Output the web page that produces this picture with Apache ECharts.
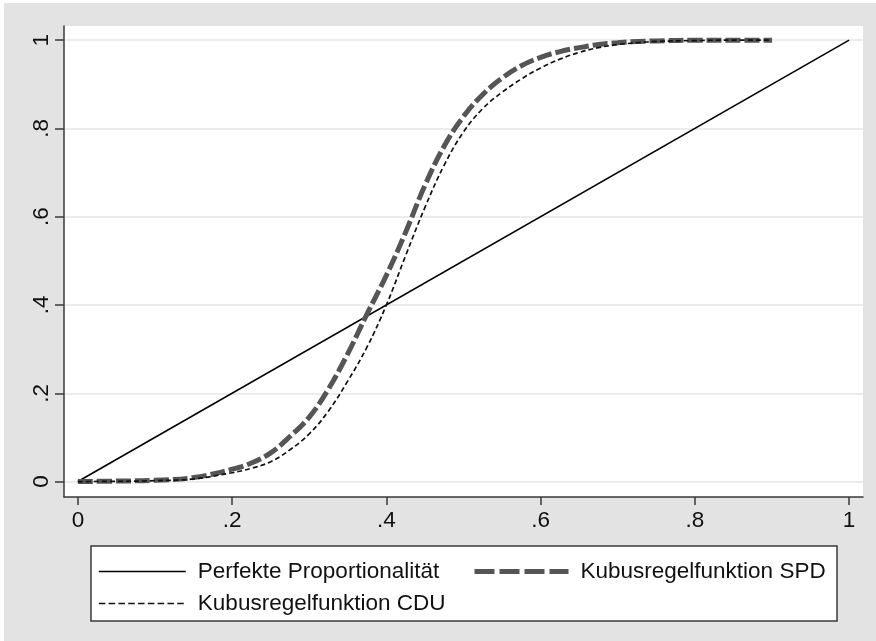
<!DOCTYPE html>
<html>
<head>
<meta charset="utf-8">
<script src="https://cdn.jsdelivr.net/npm/echarts@6/dist/echarts.min.js"></script>
<style>
  html, body { margin: 0; padding: 0; background: #fff; }
  #chart { width: 876px; height: 641px; }
</style>
</head>
<body>
<div id="chart"></div>
<script>
// Vote share (x) and seat share (y)
const shareX = [0, 0.05, 0.1, 0.15, 0.2, 0.225, 0.25, 0.275, 0.3, 0.325, 0.35, 0.375, 0.4, 0.425, 0.45, 0.475, 0.5, 0.525, 0.55, 0.575, 0.6, 0.625, 0.65, 0.675, 0.7, 0.725, 0.75, 0.8, 0.85, 0.9];
const seatsSPD = [0, 0.001, 0.003, 0.009, 0.028, 0.042, 0.065, 0.102, 0.146, 0.21, 0.29, 0.38, 0.467, 0.565, 0.671, 0.76, 0.827, 0.877, 0.914, 0.942, 0.961, 0.974, 0.983, 0.99, 0.994, 0.997, 0.998, 1.0, 1.0, 1.0];
const seatsCDU = [0, 0.0005, 0.002, 0.006, 0.02, 0.03, 0.045, 0.072, 0.108, 0.16, 0.228, 0.305, 0.4, 0.512, 0.621, 0.717, 0.792, 0.845, 0.882, 0.912, 0.937, 0.957, 0.972, 0.983, 0.99, 0.994, 0.997, 0.999, 1.0, 1.0];
const diagX = [0, 1];
const diagY = [0, 1];

const tickValues = [0, 0.2, 0.4, 0.6, 0.8, 1];
const tickLabels = ['0', '.2', '.4', '.6', '.8', '1'];

const names = ['Perfekte Proportionalität', 'Kubusregelfunktion SPD', 'Kubusregelfunktion CDU'];

const pairs = (xs, ys) => xs.map((x, i) => [x, ys[i]]);
const fmt = v => {
  const i = tickValues.findIndex(t => Math.abs(t - v) < 1e-9);
  return i >= 0 ? tickLabels[i] : '';
};

const FONT = '"Liberation Sans", Arial, sans-serif';
const textBase = { fontFamily: FONT, fontSize: 22.5, color: '#111' };

const chart = echarts.init(document.getElementById('chart'), null, { renderer: 'canvas' });

const legendCommon = {
  orient: 'horizontal',
  padding: 0,
  itemHeight: 14,
  itemGap: 0,
  selectedMode: false,
  itemStyle: { opacity: 0 },
  textStyle: Object.assign({}, textBase, { padding: [0, 0, 0, 7] })
};

chart.setOption({
  backgroundColor: '#ffffff',
  animation: false,
  graphic: [
    { type: 'rect', z: -10, shape: { x: 4, y: 3, width: 872, height: 638 }, style: { fill: '#e3e3e3' }, silent: true },
    { type: 'rect', z: 0, shape: { x: 91, y: 546, width: 746, height: 75 }, style: { fill: '#ffffff', stroke: '#3a3a3a', lineWidth: 1.5 }, silent: true }
  ],
  grid: {
    left: 64, right: 13, top: 26, bottom: 144,
    show: true, backgroundColor: '#ffffff', borderWidth: 0
  },
  xAxis: {
    type: 'value',
    min: -0.018, max: 1.018,
    axisLine: { show: true, onZero: false, lineStyle: { color: '#3a3a3a', width: 1.5 } },
    axisTick: { show: true, length: 8, customValues: tickValues, lineStyle: { color: '#3a3a3a', width: 1.5 } },
    axisLabel: Object.assign({ customValues: tickValues, formatter: fmt, margin: 12 }, textBase),
    splitLine: { show: false }
  },
  yAxis: {
    type: 'value',
    min: -0.035, max: 1.032,
    axisLine: { show: true, onZero: false, lineStyle: { color: '#3a3a3a', width: 1.5 } },
    axisTick: { show: true, length: 9, customValues: tickValues, lineStyle: { color: '#3a3a3a', width: 1.5 } },
    axisLabel: Object.assign({ customValues: tickValues, formatter: fmt, rotate: 90, margin: 11 }, textBase),
    splitLine: { show: true, lineStyle: { color: '#e6e6e6', width: 1.5 } }
  },
  legend: [
    Object.assign({}, legendCommon, { left: 98, top: 560, itemWidth: 87, data: [names[0]],
      lineStyle: { width: 1.6, color: '#000', type: 'solid' } }),
    Object.assign({}, legendCommon, { left: 472, top: 560, itemWidth: 94, data: [names[1]],
      lineStyle: { width: 5, color: '#555', type: [20, 5] } }),
    Object.assign({}, legendCommon, { left: 98, top: 592, itemWidth: 87, data: [names[2]],
      lineStyle: { width: 1.7, color: '#111', type: [6.5, 3.3] } })
  ],
  series: [
    {
      name: names[0], type: 'line', data: pairs(diagX, diagY),
      symbol: 'none', z: 3,
      lineStyle: { color: '#000', width: 1.6, type: 'solid' },
      itemStyle: { color: '#000' }
    },
    {
      name: names[1], type: 'line', data: pairs(shareX, seatsSPD),
      symbol: 'none', smooth: 0.4, z: 3,
      lineStyle: { color: '#555', width: 5, type: [15, 4] },
      itemStyle: { color: '#555' }
    },
    {
      name: names[2], type: 'line', data: pairs(shareX, seatsCDU),
      symbol: 'none', smooth: 0.4, z: 4,
      lineStyle: { color: '#111', width: 1.7, type: [5, 3] },
      itemStyle: { color: '#111' }
    }
  ]
});
</script>
</body>
</html>
